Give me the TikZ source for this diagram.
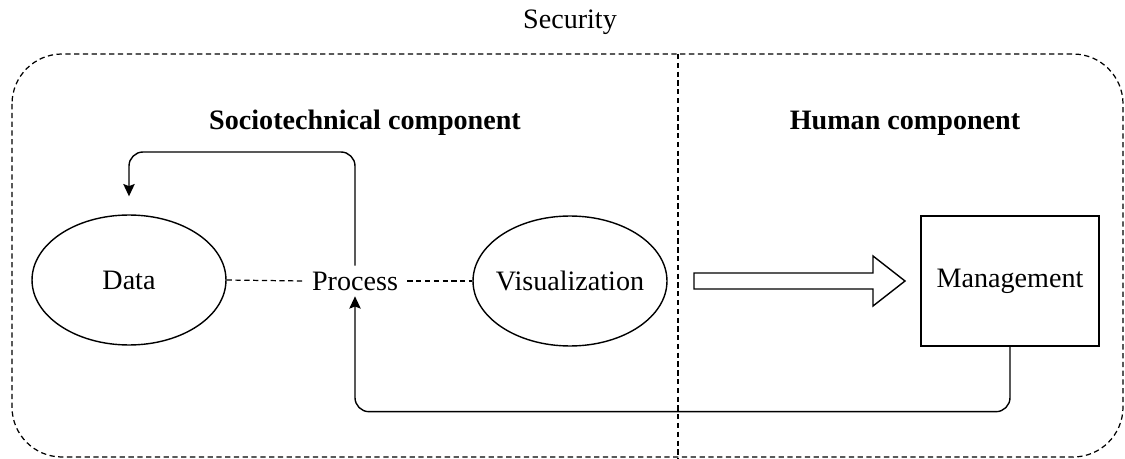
\documentclass[tikz,border=0pt]{standalone}
\usepackage{fontspec}
\setmainfont{Liberation Serif}
\usepackage{tikz}
\usetikzlibrary{arrows.meta,shapes.geometric}

\begin{document}
\begin{tikzpicture}[x=0.02cm,y=-0.02cm,>={Stealth[length=7pt,width=6.5pt,inset=1.2pt]},line width=0.8pt,
  font=\fontsize{16pt}{19pt}\selectfont,
  oval node/.style={ellipse,draw,minimum width=3.88cm,minimum height=2.6cm,inner xsep=-4pt,inner ysep=0pt},
  box node/.style={rectangle,draw,minimum width=3.56cm,minimum height=2.6cm,inner sep=0pt},
  head node/.style={font=\fontsize{16pt}{19pt}\selectfont\bfseries},
  dot line/.style={dash pattern=on 3pt off 2pt,line width=0.7pt}]
  \useasboundingbox (0,0) rectangle (1125,459);

  % frame
  \draw[dot line,rounded corners=1cm] (12,54) rectangle (1123,457);
  \draw[dot line] (678,54) -- (678,459);
  \node (security) at (570,22) {Security};
  \node[head node] (socio) at (365,123) {Sociotechnical component};
  \node[head node] (human) at (905,123) {Human component};

  % nodes
  \node[oval node] (data) at (129,280) {Data};
  \node[inner xsep=5pt,inner ysep=3pt] (process) at (355,281) {Process};
  \node[oval node] (vis) at (570,281) {Visualization};
  \node[box node] (manage) at (1010,281) {Management};
  \coordinate (loop top) at (129,152);

  \draw[dot line] (data.east) -- (process.west);
  \draw[dot line] (process.east) -- (vis.west);

  % feedback loops
  \draw[->,rounded corners=8pt,shorten >=0.36cm] (process.north) |- (loop top) -- (data.north);
  \draw[->,rounded corners=8pt] (manage.south) -- ++(0,65) -| (process.south);

  % transfer arrow
  \draw (694,273) -- (873,273) -- (873,256) -- (905,281) -- (873,306) -- (873,289) -- (694,289) -- cycle;
\end{tikzpicture}
\end{document}
